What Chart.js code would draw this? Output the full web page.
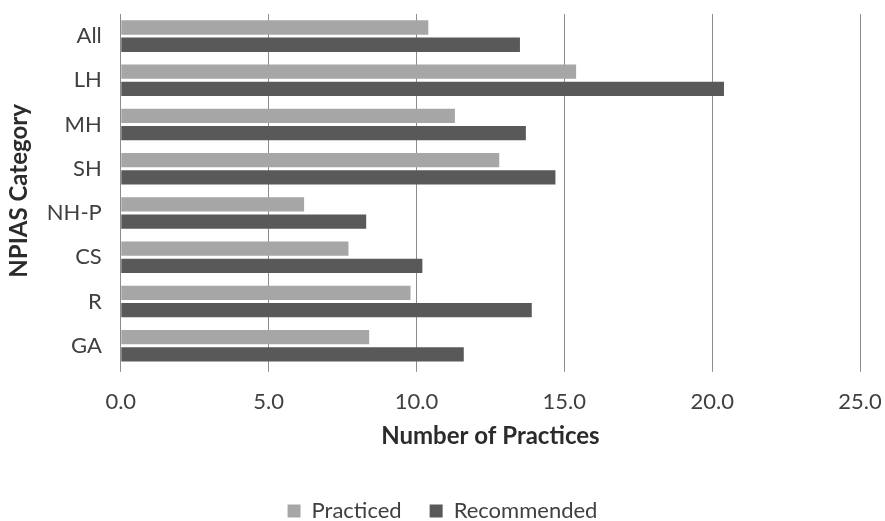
<!DOCTYPE html>
<html>
<head>
<meta charset="utf-8">
<script src="https://cdn.jsdelivr.net/npm/chart.js@4"></script>
<style>
  body { margin: 0; background: #fff; }
  #wrap { width: 885px; height: 521px; }
</style>
</head>
<body>
<div id="wrap"><canvas id="myChart" width="885" height="521"></canvas></div>
<script>
const categories = ["All", "LH", "MH", "SH", "NH-P", "CS", "R", "GA"];
const practiced = [10.4, 15.4, 11.3, 12.8, 6.2, 7.7, 9.8, 8.4];
const recommended = [13.5, 20.4, 13.7, 14.7, 8.3, 10.2, 13.9, 11.6];
const xTicks = [0, 5, 10, 15, 20, 25];

const font = "Lato, 'Open Sans', sans-serif";
const ctx = document.getElementById('myChart');

new Chart(ctx, {
    type: 'bar',
    data: {
        labels: categories,
        datasets: [{
            label: 'Practiced',
            data: practiced,
            backgroundColor: '#a6a6a6',
            categoryPercentage: 0.78,
            barPercentage: 0.83
        }, {
            label: 'Recommended',
            data: recommended,
            backgroundColor: '#595959',
            categoryPercentage: 0.78,
            barPercentage: 0.83
        }]
    },
    options: {
        indexAxis: 'y',
        responsive: false,
        animation: false,
        // negative bottom padding pulls the legend down near the edge
        layout: { padding: { left: 0, right: 0, top: 0, bottom: -11 } },
        plugins: {
            legend: {
                position: 'bottom',
                labels: {
                    boxWidth: 13,
                    boxHeight: 13,
                    padding: 28,
                    color: '#404040',
                    font: { family: font, size: 22 }
                }
            },
            tooltip: { enabled: false }
        },
        scales: {
            x: {
                min: 0,
                max: 25,
                afterBuildTicks: (axis) => {
                    axis.ticks = xTicks.map(v => ({ value: v }));
                },
                afterFit: (axis) => {
                    axis.paddingRight = 25;
                },
                grid: { color: '#8c8c8c', lineWidth: 1, tickLength: 4 },
                border: { display: false },
                ticks: {
                    color: '#404040',
                    padding: 17,
                    font: { family: font, size: 22 },
                    callback: (value) => Number(value).toFixed(1)
                },
                title: {
                    display: true,
                    text: 'Number of Practices',
                    color: '#2b2b2b',
                    padding: { top: -10, bottom: 21 },
                    font: { family: font, size: 24, weight: 'bold' }
                }
            },
            y: {
                afterFit: (axis) => {
                    axis.paddingTop = 14;
                },
                grid: { display: false },
                border: { display: true, color: '#8c8c8c' },
                ticks: {
                    color: '#404040',
                    padding: 11,
                    font: { family: font, size: 22 }
                },
                title: {
                    display: true,
                    text: 'NPIAS Category',
                    color: '#2b2b2b',
                    padding: { top: 5, bottom: 2 },
                    font: { family: font, size: 24, weight: 'bold' }
                }
            }
        }
    }
});
</script>
</body>
</html>
